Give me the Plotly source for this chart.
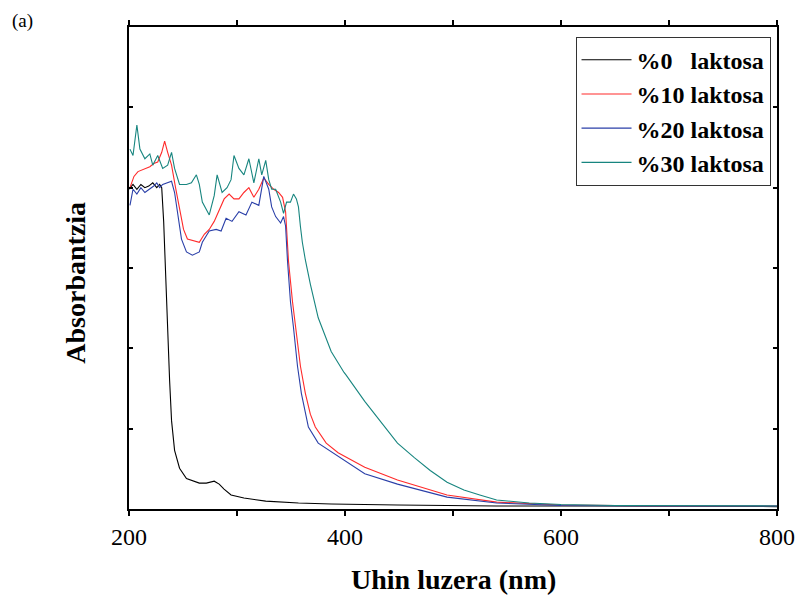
import plotly.graph_objects as go

# Data (wavelength in nm, absorbance in arbitrary units)
x0 = [200.0, 203.7, 207.3, 211.0, 214.7, 218.3, 222.0, 225.7, 228.4, 230.3, 232.1, 234.0, 235.8, 237.6,
      239.4, 242.2, 246.8, 253.2, 265.1, 271.6, 278.9, 283.5, 288.0, 294.5, 306.4, 326.6, 356.9, 387.2,
      448.6, 540.0, 632.0, 800.0]
y0 = [1.99, 2.02, 1.99, 2.02, 2.00, 2.01, 2.03, 2.00, 2.02, 2.00, 1.79, 1.42, 1.11, 0.80,
      0.55, 0.365, 0.254, 0.19, 0.161, 0.161, 0.173, 0.155, 0.124, 0.087, 0.068, 0.049, 0.037, 0.031,
      0.025, 0.019, 0.019, 0.015]

x10 = [200.9, 204.6, 208.3, 211.9, 215.6, 219.3, 222.9, 226.6, 230.3, 233.0, 235.8, 239.4, 243.1, 246.8,
       250.5, 254.1, 259.6, 265.1, 269.7, 274.3, 278.9, 283.5, 288.1, 292.7, 297.2, 301.8, 306.4, 311.0,
       315.6, 320.2, 324.8, 329.4, 334.0, 338.5, 342.2, 345.0, 347.7, 351.4, 354.1, 358.7, 363.3, 367.9,
       372.5, 382.6, 393.6, 418.3, 448.6, 494.5, 540.4, 600.0, 700.0, 800.0]
y10 = [2.00, 2.07, 2.10, 2.11, 2.12, 2.13, 2.15, 2.16, 2.22, 2.29, 2.22, 2.14, 2.00, 1.88,
       1.74, 1.68, 1.67, 1.66, 1.71, 1.74, 1.79, 1.86, 1.93, 1.96, 1.93, 1.93, 1.97, 2.00,
       1.94, 1.99, 2.06, 2.02, 1.99, 1.97, 1.94, 1.85, 1.54, 1.29, 1.13, 0.89, 0.72, 0.59,
       0.51, 0.41, 0.35, 0.26, 0.18, 0.087, 0.043, 0.025, 0.019, 0.019]

x20 = [200.9, 203.7, 207.3, 211.0, 214.7, 219.3, 222.9, 225.7, 228.4, 231.2, 235.8, 239.4, 242.2, 245.0,
       248.6, 253.2, 258.7, 265.1, 267.9, 274.3, 280.7, 285.3, 289.9, 295.4, 301.8, 308.3, 313.8, 320.2,
       324.8, 329.4, 332.1, 335.8, 340.4, 343.1, 345.0, 346.8, 349.5, 352.3, 356.0, 359.6, 366.1, 375.2,
       393.6, 418.3, 448.6, 494.5, 540.4, 600.0, 700.0, 800.0]
y20 = [1.89, 1.99, 1.96, 2.00, 1.97, 1.99, 2.01, 2.03, 2.00, 2.02, 2.03, 2.04, 1.97, 1.83,
       1.68, 1.60, 1.58, 1.60, 1.66, 1.73, 1.74, 1.73, 1.81, 1.79, 1.85, 1.83, 1.91, 1.89,
       2.07, 1.99, 1.88, 1.82, 1.78, 1.82, 1.76, 1.54, 1.29, 1.13, 0.89, 0.72, 0.51, 0.41,
       0.33, 0.22, 0.155, 0.074, 0.037, 0.022, 0.019, 0.019]

x30 = [200.9, 203.7, 207.3, 210.1, 214.7, 219.3, 222.0, 226.6, 231.2, 235.8, 239.4, 242.2, 246.8, 253.2,
       257.8, 262.4, 265.1, 267.9, 274.3, 278.9, 281.6, 286.2, 290.8, 294.5, 297.2, 301.8, 306.4, 311.0,
       315.6, 320.2, 322.9, 326.6, 329.4, 332.1, 335.8, 340.4, 343.1, 345.9, 349.5, 352.3, 355.0, 356.9,
       358.7, 360.5, 363.3, 367.9, 375.2, 387.2, 399.1, 400.9, 418.3, 448.6, 464.2, 478.9, 494.5, 510.1,
       524.8, 540.4, 570.6, 600.0, 650.4, 800.0]
y30 = [2.24, 2.20, 2.39, 2.24, 2.18, 2.21, 2.14, 2.20, 2.12, 2.14, 2.22, 2.12, 2.02, 2.02,
       2.03, 2.08, 2.02, 1.91, 1.83, 1.95, 2.08, 1.97, 2.00, 2.05, 2.20, 2.12, 2.08, 2.18,
       2.03, 2.18, 2.08, 2.17, 2.05, 1.99, 1.99, 1.91, 1.84, 1.91, 1.91, 1.96, 1.93, 1.88,
       1.76, 1.66, 1.55, 1.40, 1.19, 0.98, 0.85, 0.835, 0.67, 0.41, 0.32, 0.24, 0.167, 0.118,
       0.087, 0.056, 0.037, 0.028, 0.022, 0.019]

names = ["%0\u00a0\u00a0\u00a0laktosa", "%10 laktosa", "%20 laktosa", "%30 laktosa"]
colors = ["#000000", "#ff2a2a", "#2a3fa8", "#17857f"]
series = [(x0, y0), (x10, y10), (x20, y20), (x30, y30)]

x_ticks = [200, 400, 600, 800]

fig = go.Figure()
for (xs, ys), nm, c in zip(series, names, colors):
    fig.add_trace(go.Scatter(x=xs, y=ys, mode="lines", name=nm,
                             line=dict(color=c, width=1.1)))

font_serif = "Liberation Serif"

fig.update_layout(
    width=799, height=594,
    margin=dict(l=121, r=24, t=16, b=93),
    paper_bgcolor="white", plot_bgcolor="white",
    font=dict(family=font_serif, color="black"),
    showlegend=True,
    legend=dict(x=0.99, y=0.98, xanchor="right", yanchor="top",
                bordercolor="#333333", borderwidth=1, bgcolor="white",
                font=dict(family=font_serif, size=24, weight="bold"),
                tracegroupgap=0, itemwidth=50),
    xaxis=dict(range=[200, 800], tickvals=x_ticks, ticktext=[str(v) for v in x_ticks],
               ticks="outside", ticklen=5, tickwidth=1.5, tickcolor="black",
               showline=True, linecolor="black", linewidth=2, mirror="ticks",
               showgrid=False, zeroline=False,
               tickfont=dict(family=font_serif, size=24),
               minor=dict(tickvals=[300, 500, 700], ticks="outside", ticklen=5,
                          tickwidth=1.5, tickcolor="black", showgrid=False)),
    yaxis=dict(range=[0, 3], dtick=0.5, showticklabels=False,
               ticks="inside", ticklen=4, tickwidth=1.5, tickcolor="black",
               showline=True, linecolor="black", linewidth=2, mirror="ticks",
               showgrid=False, zeroline=False),
    annotations=[
        dict(text="(a)", xref="paper", yref="paper", x=-0.1835, y=1.012,
             xanchor="left", yanchor="middle", showarrow=False,
             font=dict(family=font_serif, size=19)),
        dict(text="<b>Uhin luzera (nm)</b>", xref="paper", yref="paper", x=0.5, y=-0.146,
             xanchor="center", yanchor="middle", showarrow=False,
             font=dict(family=font_serif, size=28)),
        dict(text="<b>Absorbantzia</b>", xref="paper", yref="paper", x=-0.083, y=0.47,
             xanchor="center", yanchor="middle", showarrow=False, textangle=-90,
             font=dict(family=font_serif, size=28)),
    ],
)

fig.write_html("out.html")
